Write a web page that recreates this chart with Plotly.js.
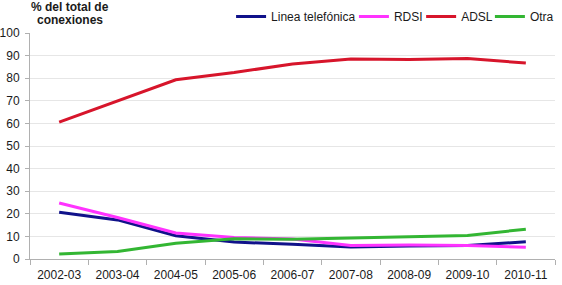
<!DOCTYPE html>
<html>
<head>
<meta charset="utf-8">
<script src="https://cdn.plot.ly/plotly-3.0.1.min.js"></script>
<style>
  html, body { margin: 0; padding: 0; background: #ffffff; }
  #chart { width: 562px; height: 285px; }
</style>
</head>
<body>
<div id="chart"></div>
<script>
// Campaigns (school years)
const periods = ["2002-03", "2003-04", "2004-05", "2005-06", "2006-07", "2007-08", "2008-09", "2009-10", "2010-11"];

// Share of total connections by type (%)
const lineaTelefonica = [20.7, 17.3, 10.3, 7.5, 6.5, 5.3, 5.8, 6.0, 7.6];
const rdsi            = [24.8, 18.4, 11.5, 9.5, 8.9, 6.0, 6.2, 6.0, 5.2];
const adsl            = [60.6, 70.0, 79.3, 82.5, 86.3, 88.5, 88.3, 88.7, 86.7];
const otra            = [2.2, 3.3, 7.0, 9.0, 8.7, 9.3, 9.9, 10.4, 13.2];

const seriesNames  = ["Linea telefónica", "RDSI", "ADSL", "Otra"];
const seriesValues = [lineaTelefonica, rdsi, adsl, otra];
const seriesColors = ["#10128a", "#ff33ff", "#d7152b", "#33b633"];

// Y-axis title, one line per entry
const yTitleLines = ["% del total de", "conexiones"];

// Each series gets its own one-item legend so the entries can be spaced freely
const legendIds = ["legend", "legend2", "legend3", "legend4"];
const legendX   = [0.383, 0.617, 0.745, 0.876];

const traces = seriesValues.map((vals, i) => ({
  type: "scatter",
  mode: "lines",
  x: periods,
  y: vals,
  name: seriesNames[i],
  legend: legendIds[i],
  line: { color: seriesColors[i], width: 3 },
  hoverinfo: "x+y+name"
}));

const layout = {
  width: 562,
  height: 285,
  margin: { l: 30, r: 7, t: 33, b: 26, autoexpand: false },
  paper_bgcolor: "#ffffff",
  plot_bgcolor: "#ffffff",
  font: { family: "Liberation Sans, Arial, sans-serif", size: 12, color: "#1a1a1a" },
  showlegend: true,
  xaxis: {
    type: "category",
    range: [-0.5, periods.length - 0.5],
    showgrid: false,
    showline: true,
    linecolor: "#b0b0b0",
    linewidth: 1,
    ticks: "outside",
    tickson: "boundaries",
    ticklen: 5,
    tickcolor: "#b0b0b0",
    tickangle: 0,
    ticklabelstandoff: 5,
    automargin: false,
    tickfont: { size: 12, color: "#1a1a1a" },
    fixedrange: true
  },
  yaxis: {
    range: [0, 100],
    dtick: 10,
    showgrid: true,
    gridcolor: "#e6e6e6",
    gridwidth: 1,
    zeroline: false,
    showline: true,
    linecolor: "#b0b0b0",
    linewidth: 1,
    ticks: "outside",
    ticklen: 4,
    tickcolor: "#b0b0b0",
    ticklabelstandoff: 3,
    automargin: false,
    tickfont: { size: 12, color: "#1a1a1a" },
    fixedrange: true
  },
  annotations: yTitleLines.map((line, i) => ({
    xref: "paper", yref: "paper",
    x: 0.076, y: [1.113, 1.056][i],
    xanchor: "center", yanchor: "middle",
    showarrow: false,
    text: "<b>" + line + "</b>",
    font: { size: 12, color: "#1a1a1a" }
  }))
};

legendIds.forEach((id, i) => {
  layout[id] = {
    orientation: "h",
    x: legendX[i], xanchor: "left",
    y: 1.073, yanchor: "middle",
    bgcolor: "rgba(0,0,0,0)",
    font: { size: 12, color: "#1a1a1a" }
  };
});

Plotly.newPlot("chart", traces, layout, { displayModeBar: false, staticPlot: true });
</script>
</body>
</html>
